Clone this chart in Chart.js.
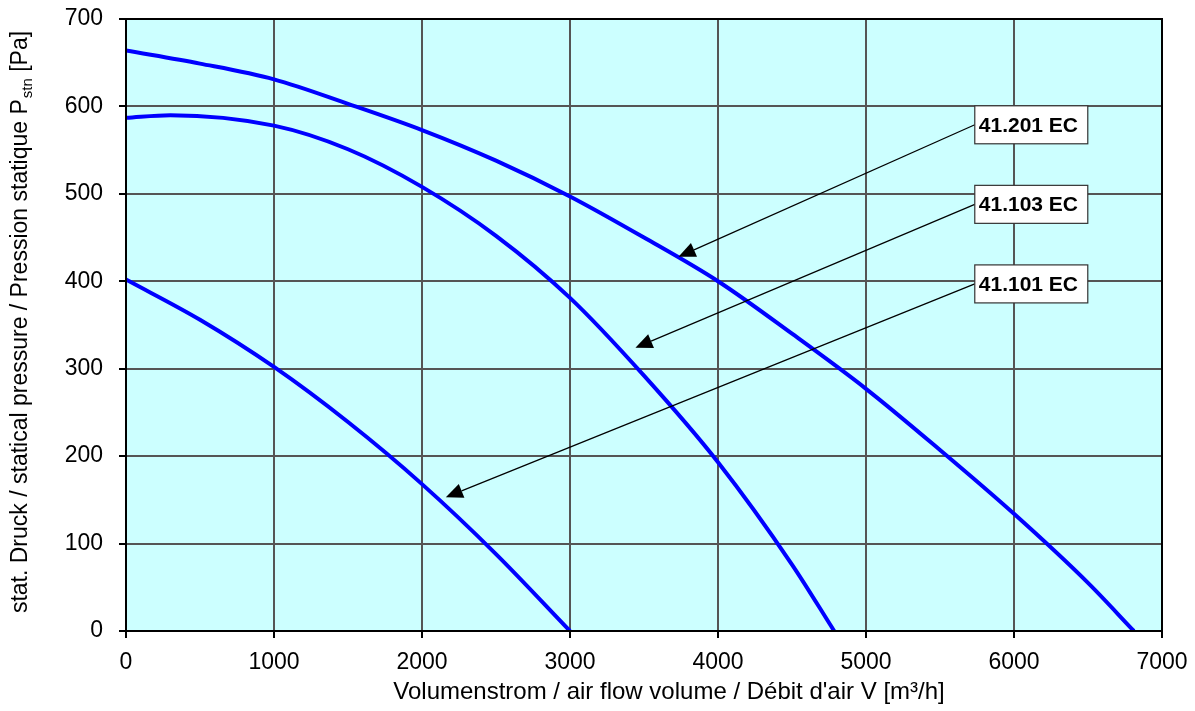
<!DOCTYPE html>
<html>
<head>
<meta charset="utf-8">
<script src="https://cdn.jsdelivr.net/npm/chart.js@4"></script>
<style>
  html, body { margin: 0; padding: 0; background: #fff; }
  #wrap { width: 1195px; height: 711px; position: relative; }
</style>
</head>
<body>
<div id="wrap"><canvas id="grafico"></canvas></div>
<script>
// Kennlinien (Volumenstrom m³/h -> Druck Pa)
const flow201 = [0, 500, 1000, 1500, 2000, 2500, 3000, 3500, 4000, 4500, 5000, 5500, 6000, 6500, 6810];
const press201 = [664, 649, 631, 603, 573, 538, 497, 450, 400, 340, 277, 207, 134, 55, 0];

const flow103 = [0, 300, 1000, 1500, 2000, 2500, 3000, 3500, 4000, 4500, 4785];
const press103 = [587, 590, 578, 551, 508, 452, 381, 292, 193, 76, 0];

const flow101 = [0, 500, 1000, 1500, 2000, 2500, 3000];
const press101 = [402, 356, 302, 239, 168, 88, 0];

const xTicks = [0, 1000, 2000, 3000, 4000, 5000, 6000, 7000];
const yTicks = [0, 100, 200, 300, 400, 500, 600, 700];

// Beschriftungen mit Pfeil (Box links + Pfeilspitze in Datenkoordinaten)
const labelTexts = ["41.201 EC", "41.103 EC", "41.101 EC"];
const labelX = [5735, 5735, 5735];
const labelY = [579, 488, 397];
const tipX = [3733, 3442, 2161];
const tipY = [428, 324, 153];

const FONT = "'Liberation Sans', Arial, sans-serif";

const toPoints = (xs, ys) => xs.map((x, i) => ({ x, y: ys[i] }));

const serie = (label, xs, ys) => ({
  label,
  data: toPoints(xs, ys),
  showLine: true,
  borderColor: "#0000ff",
  borderWidth: 4,
  pointRadius: 0,
  fill: false,
  cubicInterpolationMode: "monotone",
});

// Hintergrund, Rahmen, Pfeile und Achsentitel
const plotArea = {
  id: "plotArea",
  beforeDraw(chart) {
    const { ctx, chartArea: a } = chart;
    ctx.save();
    ctx.fillStyle = "#ccffff";
    ctx.fillRect(a.left, a.top, a.right - a.left, a.bottom - a.top);
    ctx.restore();
  },
  afterDatasetsDraw(chart) {
    const { ctx, chartArea: a, scales } = chart;
    ctx.save();
    ctx.strokeStyle = "#000";
    ctx.lineWidth = 2;
    ctx.strokeRect(a.left, a.top, a.right - a.left, a.bottom - a.top);

    ctx.font = "bold 21px " + FONT;
    labelTexts.forEach((txt, i) => {
      const bx = scales.x.getPixelForValue(labelX[i]);
      const by = scales.y.getPixelForValue(labelY[i]);
      const tx = scales.x.getPixelForValue(tipX[i]);
      const ty = scales.y.getPixelForValue(tipY[i]);

      const ang = Math.atan2(ty - by, tx - bx);
      const headLen = 17, headW = 7.5;
      const baseX = tx - headLen * Math.cos(ang);
      const baseY = ty - headLen * Math.sin(ang);

      ctx.strokeStyle = "#000";
      ctx.lineWidth = 1.2;
      ctx.beginPath();
      ctx.moveTo(bx, by);
      ctx.lineTo(baseX, baseY);
      ctx.stroke();

      ctx.fillStyle = "#000";
      ctx.beginPath();
      ctx.moveTo(tx, ty);
      ctx.lineTo(baseX + headW * Math.sin(ang), baseY - headW * Math.cos(ang));
      ctx.lineTo(baseX - headW * Math.sin(ang), baseY + headW * Math.cos(ang));
      ctx.closePath();
      ctx.fill();

      const w = 113, h = 38;
      ctx.fillStyle = "#fff";
      ctx.fillRect(bx, by - h / 2, w, h);
      ctx.strokeStyle = "#333";
      ctx.lineWidth = 1.2;
      ctx.strokeRect(bx, by - h / 2, w, h);

      ctx.fillStyle = "#000";
      ctx.textAlign = "left";
      ctx.textBaseline = "middle";
      ctx.fillText(txt, bx + 4, by + 1);
    });
    ctx.restore();
  },
  afterDraw(chart) {
    const { ctx, chartArea: a } = chart;
    ctx.save();
    ctx.fillStyle = "#000";

    // x-Achsentitel
    ctx.font = "24px " + FONT;
    ctx.textAlign = "center";
    ctx.textBaseline = "middle";
    ctx.fillText("Volumenstrom / air flow volume / Débit d'air V [m³/h]", 669, 692);

    // y-Achsentitel mit tiefgestelltem "stn"
    const main = "stat. Druck / statical pressure / Pression statique P";
    const sub = "stn";
    const tail = " [Pa]";
    ctx.textAlign = "left";
    ctx.textBaseline = "alphabetic";
    ctx.font = "23px " + FONT;
    const wMain = ctx.measureText(main).width;
    const wTail = ctx.measureText(tail).width;
    ctx.font = "15px " + FONT;
    const wSub = ctx.measureText(sub).width;
    const total = wMain + wSub + wTail + 1;
    ctx.translate(27, (a.top + a.bottom) / 2 - 3);
    ctx.rotate(-Math.PI / 2);
    let x = -total / 2;
    ctx.font = "23px " + FONT;
    ctx.fillText(main, x, 0);
    x += wMain;
    ctx.font = "15px " + FONT;
    ctx.fillText(sub, x + 1, 5);
    x += wSub + 1;
    ctx.font = "23px " + FONT;
    ctx.fillText(tail, x, 0);
    ctx.restore();
  },
};

const canvas = document.getElementById("grafico");
canvas.width = 1195;
canvas.height = 711;

new Chart(canvas.getContext("2d"), {
  type: "scatter",
  data: {
    datasets: [
      serie("41.201 EC", flow201, press201),
      serie("41.103 EC", flow103, press103),
      serie("41.101 EC", flow101, press101),
    ],
  },
  options: {
    responsive: false,
    animation: false,
    layout: { padding: { top: 19, right: 33, left: 0, bottom: 0 } },
    plugins: { legend: { display: false }, tooltip: { enabled: false } },
    scales: {
      x: {
        type: "linear",
        min: 0,
        max: 7000,
        afterBuildTicks: (s) => { s.ticks = xTicks.map((v) => ({ value: v })); },
        afterFit: (s) => {
          s.height = 80;
          s.paddingLeft = 0;
          s.paddingRight = 0;
        },
        grid: { color: "#555", lineWidth: 2, tickColor: "#000", tickLength: 7, drawTicks: true },
        border: { display: false },
        ticks: {
          color: "#000",
          font: { family: FONT, size: 23 },
          padding: 11,
          maxRotation: 0,
          callback: (v) => String(v),
        },
      },
      y: {
        type: "linear",
        min: 0,
        max: 700,
        afterBuildTicks: (s) => { s.ticks = yTicks.map((v) => ({ value: v })); },
        afterFit: (s) => {
          s.width = 126;
          s.paddingTop = 0;
          s.paddingBottom = 0;
        },
        grid: { color: "#555", lineWidth: 2, tickColor: "#000", tickLength: 7, drawTicks: true },
        border: { display: false },
        ticks: {
          color: "#000",
          font: { family: FONT, size: 23 },
          padding: 16,
          callback: (v) => String(v),
        },
      },
    },
  },
  plugins: [plotArea],
});
</script>
</body>
</html>
